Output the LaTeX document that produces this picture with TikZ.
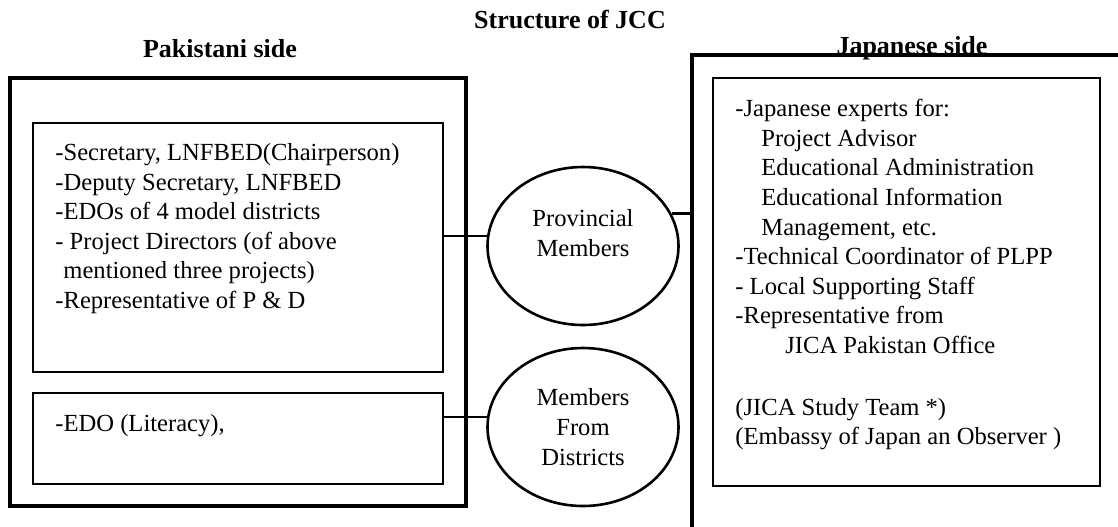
\documentclass[tikz,border=0pt]{standalone}
\usepackage{fontspec}
\setmainfont{Liberation Serif}
\usetikzlibrary{positioning,shapes.geometric,fit}

\begin{document}
\begin{tikzpicture}[x=0.5pt,y=-0.5pt,
  sidebox/.style={draw, line width=1.6pt, inner sep=0pt},
  listbox/.style={draw, line width=0.8pt, inner sep=0pt},
  member/.style={draw, ellipse, line width=1.3pt, minimum width=95.5pt, minimum height=79pt, inner sep=0pt},
  link/.style={line width=1.4pt},
  heading/.style={font=\fontsize{13}{15}\selectfont\bfseries, anchor=base, inner sep=0pt},
  body/.style={font=\fontsize{12.3}{14.8}\selectfont, align=left, anchor=north west, inner sep=0pt},
  memtext/.style={font=\fontsize{12.3}{15}\selectfont, align=center}]
  \useasboundingbox (0,0) rectangle (1118,526);

  % Titles
  \node[heading] (title) at (570,28) {Structure of JCC};
  \node[heading] (pkhead) at (220,57) {Pakistani side};
  \node[heading] (jphead) at (912,54) {Japanese side};

  % Pakistani side
  \node[sidebox, fit={(10,78) (466,506)}] (pkout) {};
  \node[listbox, fit={(33,123) (443,372)}] (pkmain) {};
  \node[listbox, fit={(33,393) (443,484)}] (pkdist) {};
  \node[body] (pklist) at (55,143) {-Secretary, LNFBED(Chairperson)\\-Deputy Secretary, LNFBED\\-EDOs of 4 model districts\\- Project Directors (of above\\\hspace*{4pt}mentioned three projects)\\-Representative of P \& D};
  \node[body] (pkedo) at (55,414) {-EDO (Literacy),};

  % Members
  \node[member] (prov) at (583,246) {};
  \node[memtext] (provtext) at (583,233) {Provincial\\Members};
  \node[member, memtext] (dist) at (583,427) {Members\\From\\Districts};

  % Japanese side (runs off the page)
  \node[sidebox, fit={(692,55) (1160,560)}] (jpout) {};
  \node[listbox, fit={(713,78) (1100,486)}] (jpmain) {};
  \node[body] (jplist) at (735,99) {-Japanese experts for:\\\hspace*{13pt}Project Advisor\\\hspace*{13pt}Educational Administration\\\hspace*{13pt}Educational Information\\\hspace*{13pt}Management, etc.\\-Technical Coordinator of PLPP\\- Local Supporting Staff\\-Representative from\\\hspace*{25pt}JICA Pakistan Office\\[16pt](JICA Study Team *)\\(Embassy of Japan an Observer )};

  % Connectors
  \draw[link] (pkmain.east |- prov.174) -- (prov.174);
  \draw[link] (pkdist.east |- dist.174) -- (dist.174);
  \draw[link] (prov.20) -- (prov.20 -| jpout.west);
\end{tikzpicture}
\end{document}
